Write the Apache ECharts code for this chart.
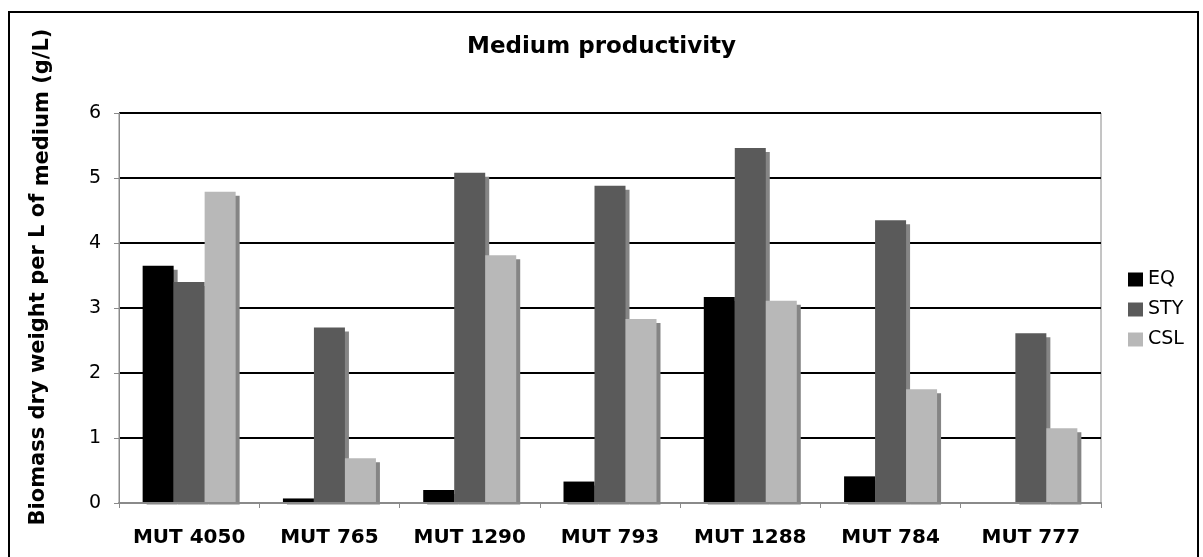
<!DOCTYPE html>
<html>
<head>
<meta charset="utf-8">
<script src="https://cdn.jsdelivr.net/npm/echarts@6/dist/echarts.min.js"></script>
<style>
html,body{margin:0;padding:0;background:#fff;}
#chart{width:1203px;height:557px;}
</style>
</head>
<body>
<div id="chart"></div>
<script>
var categories = ['MUT 4050', 'MUT 765', 'MUT 1290', 'MUT 793', 'MUT 1288', 'MUT 784', 'MUT 777'];
var eqValues  = [3.65, 0.07, 0.20, 0.33, 3.17, 0.41, 0];
var styValues = [3.40, 2.70, 5.08, 4.88, 5.46, 4.35, 2.61];
var cslValues = [4.79, 0.69, 3.81, 2.83, 3.11, 1.75, 1.15];
var seriesNames = ['EQ', 'STY', 'CSL'];
var yTicks = [0, 1, 2, 3, 4, 5, 6];

var FONT = 'DejaVu Sans';
var chart = echarts.init(document.getElementById('chart'), null, {renderer: 'canvas'});

function barSeries(name, data, color) {
  return {
    name: name,
    type: 'bar',
    data: data,
    barWidth: 31,
    barGap: '0%',
    itemStyle: {
      color: color,
      shadowColor: '#858585',
      shadowBlur: 0,
      shadowOffsetX: 4,
      shadowOffsetY: 4
    }
  };
}

var option = {
  backgroundColor: '#ffffff',
  animation: false,
  title: {
    text: 'Medium productivity',
    left: 'center',
    top: 31,
    textStyle: {fontFamily: FONT, fontWeight: 'bold', fontSize: 23, color: '#000'}
  },
  legend: {
    data: seriesNames,
    orient: 'vertical',
    left: 1123,
    top: 265,
    itemWidth: 15,
    itemHeight: 14,
    itemGap: 11,
    icon: 'rect',
    itemStyle: {shadowColor: 'rgba(0,0,0,0)', shadowOffsetX: 0, shadowOffsetY: 0, shadowBlur: 0},
    textStyle: {fontFamily: FONT, fontSize: 19, color: '#000'}
  },
  grid: {
    left: 119, right: 102, top: 113, bottom: 54,
    containLabel: false,
    outerBoundsMode: 'none',
    show: true, borderColor: '#8a8a8a', borderWidth: 1, backgroundColor: 'transparent'
  },
  xAxis: {
    type: 'category',
    data: categories,
    z: 10,
    axisLine: {show: true, lineStyle: {color: '#8a8a8a', width: 2}},
    axisTick: {show: true, length: 5, lineStyle: {color: '#8a8a8a', width: 1}},
    axisLabel: {interval: 0, fontFamily: FONT, fontWeight: 'bold', fontSize: 20, color: '#000', margin: 25}
  },
  yAxis: {
    type: 'value',
    min: 0, max: 6, interval: 1,
    axisLine: {show: true, lineStyle: {color: '#8a8a8a', width: 1}},
    axisTick: {show: true, length: 5, lineStyle: {color: '#8a8a8a', width: 1}},
    axisLabel: {
      fontFamily: FONT, fontSize: 19, color: '#000', margin: 18,
      formatter: function (v) { return yTicks.indexOf(v) >= 0 ? String(v) : ''; }
    },
    splitLine: {show: true, lineStyle: {color: '#000', width: 2}},
    name: '{a|Biomass dry weight per L of }{b|medium (g/L)}',
    nameLocation: 'middle',
    nameGap: 66,
    nameRotate: 90,
    nameTextStyle: {
      padding: [0, 0, 0, 62],
      rich: {
        a: {fontFamily: FONT, fontWeight: 'bold', fontSize: 21, color: '#000', verticalAlign: 'top'},
        b: {fontFamily: FONT, fontWeight: 'bold', fontSize: 21, color: '#000', verticalAlign: 'bottom', padding: [4, 0, 0, 0]}
      }
    }
  },
  series: [
    barSeries(seriesNames[0], eqValues, '#000000'),
    barSeries(seriesNames[1], styValues, '#5a5a5a'),
    barSeries(seriesNames[2], cslValues, '#b8b8b8')
  ],
  graphic: [
    {
      type: 'rect', z: 5, silent: true,
      shape: {x: 120, y: 504.5, width: 980, height: 6},
      style: {fill: '#ffffff', stroke: null}
    },
    {
      type: 'rect', z: 20, silent: true,
      shape: {x: 9, y: 12, width: 1189, height: 560},
      style: {fill: null, stroke: '#000', lineWidth: 2}
    }
  ]
};
chart.setOption(option);
</script>
</body>
</html>
